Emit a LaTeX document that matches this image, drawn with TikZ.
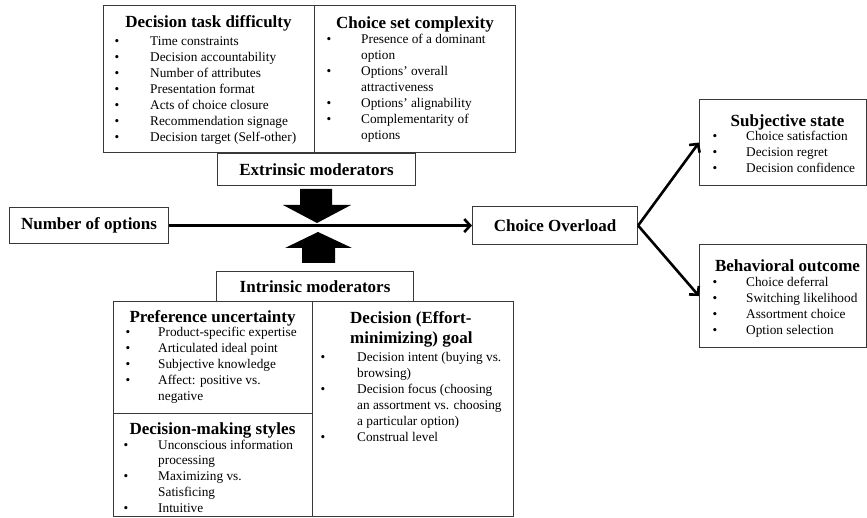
\documentclass[tikz,border=0pt]{standalone}
\usepackage{fontspec}
\setmainfont{Liberation Serif}
\usetikzlibrary{arrows.meta}
\newcommand\ttlfont{\fontsize{17}{20}\selectfont\bfseries}
\newcommand\bdyfont{\fontsize{13.3}{15.9}\selectfont}
\begin{document}
\begin{tikzpicture}[x=1pt,y=-1pt,
  box/.style={draw=black!78, line width=1.1pt, anchor=north west, inner sep=0pt, fill=white},
  tbox/.style={box, font=\ttlfont},
  ttl/.style={anchor=base, inner sep=0pt, font=\ttlfont},
  ttlw/.style={anchor=base west, inner sep=0pt, font=\ttlfont},
  itm/.style={anchor=base west, inner sep=0pt, font=\bdyfont},
  conn/.style={line width=2.6pt, -{Straight Barb[length=6pt,width=13pt]}},
  blk/.style={fill=black, draw=none}]
\useasboundingbox (0,0) rectangle (867,518);
\fill[white] (0,0) rectangle (867,518);

% boxes
\node[box, minimum width=211pt, minimum height=147pt] (dtd) at (103,5) {};
\node[box, minimum width=201pt, minimum height=147pt] (csc) at (314,5) {};
\node[tbox, minimum width=198pt, minimum height=32pt] (ext) at (217,153) {Extrinsic moderators};
\node[tbox, minimum width=159pt, minimum height=36pt] (nop) at (9,207) {Number of options};
\node[tbox, minimum width=165pt, minimum height=38pt] (co) at (472,206) {Choice Overload};
\node[box, minimum width=167pt, minimum height=86pt] (ss) at (699,99) {};
\node[box, minimum width=167pt, minimum height=103pt] (bo) at (699,244) {};
\node[tbox, minimum width=197pt, minimum height=30pt] (intr) at (216,271) {Intrinsic moderators};
\node[box, minimum width=199pt, minimum height=112pt] (pu) at (113,301) {};
\node[box, minimum width=199pt, minimum height=103pt] (dms) at (113,413) {};
\node[box, minimum width=201pt, minimum height=215pt] (dg) at (312,301) {};

% titles
\node[ttl] (dtdt) at (208.5,28) {Decision task difficulty};
\node[ttl] (csct) at (415,29) {Choice set complexity};
\node[ttl] (put) at (212.5,323) {Preference uncertainty};
\node[ttl] (dmst) at (212.5,434) {Decision-making styles};
\node[ttlw] (dgt1) at (350,324) {Decision (Effort-};
\node[ttlw] (dgt2) at (350,344) {minimizing) goal};
\node[ttl] (sst) at (787.5,127) {Subjective state};
\node[ttl] (bot) at (787.5,272) {Behavioral outcome};

% items
\node[itm] (dtdi) at (114.5,46) {\begin{tabular}[t]{@{}p{35.5pt}@{}l@{}}
\textbullet & Time constraints\\
\textbullet & Decision accountability\\
\textbullet & Number of attributes\\
\textbullet & Presentation format\\
\textbullet & Acts of choice closure\\
\textbullet & Recommendation signage\\
\textbullet & Decision target (Self-other)
\end{tabular}};
\node[itm] (csci) at (326.5,44) {\begin{tabular}[t]{@{}p{34.5pt}@{}l@{}}
\textbullet & Presence of a dominant\\
 & option\\
\textbullet & Options' overall\\
 & attractiveness\\
\textbullet & Options' alignability\\
\textbullet & Complementarity of\\
 & options
\end{tabular}};
\node[itm] (pui) at (125.5,337) {\begin{tabular}[t]{@{}p{32.5pt}@{}l@{}}
\textbullet & Product-specific expertise\\
\textbullet & Articulated ideal point\\
\textbullet & Subjective knowledge\\
\textbullet & Affect: positive vs.\\
 & negative
\end{tabular}};
\node[itm] (dmsi) at (123.5,449) {\begin{tabular}[t]{@{}p{34.5pt}@{}l@{}}
\textbullet & Unconscious information\\
 & processing\\
\textbullet & Maximizing vs.\\
 & Satisficing\\
\textbullet & Intuitive
\end{tabular}};
\node[itm] (dgi) at (320.5,362) {\begin{tabular}[t]{@{}p{36.5pt}@{}l@{}}
\textbullet & Decision intent (buying vs.\\
 & browsing)\\
\textbullet & Decision focus (choosing\\
 & an assortment vs. choosing\\
 & a particular option)\\
\textbullet & Construal level
\end{tabular}};
\node[itm] (ssi) at (712.5,141) {\begin{tabular}[t]{@{}p{33.5pt}@{}l@{}}
\textbullet & Choice satisfaction\\
\textbullet & Decision regret\\
\textbullet & Decision confidence
\end{tabular}};
\node[itm] (boi) at (712.5,287) {\begin{tabular}[t]{@{}p{33.5pt}@{}l@{}}
\textbullet & Choice deferral\\
\textbullet & Switching likelihood\\
\textbullet & Assortment choice\\
\textbullet & Option selection
\end{tabular}};

% connectors
\draw[conn] (nop.east) -- (co.west);
\draw[conn] (co.east) -- (ss.west);
\draw[conn] (co.east) -- (bo.west);

% block arrows
\coordinate (dtip) at (317,223);
\coordinate (utip) at (318,232);
\fill[blk] (dtip) -- ++(-34,-18) -- ++(17,0) -- ++(0,-16) -- ++(32,0) -- ++(0,16) -- ++(19,0) -- cycle;
\fill[blk] (utip) -- ++(-33,16) -- ++(17,0) -- ++(0,15) -- ++(33,0) -- ++(0,-15) -- ++(17,0) -- cycle;
\end{tikzpicture}
\end{document}
